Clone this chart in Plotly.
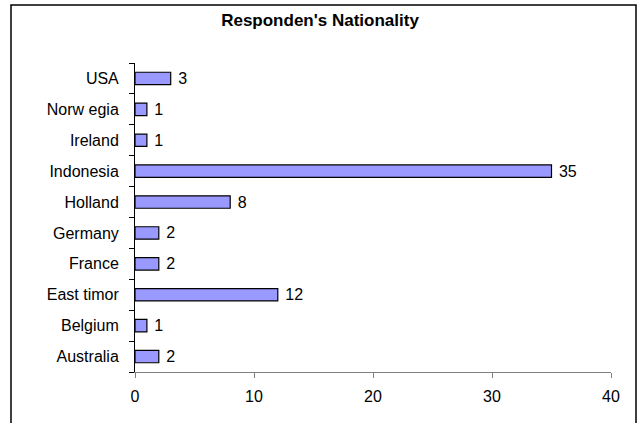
import plotly.graph_objects as go

categories = ["Australia", "Belgium", "East timor", "France", "Germany",
              "Holland", "Indonesia", "Ireland", "Norw egia", "USA"]
values = [2, 1, 12, 2, 2, 8, 35, 1, 1, 3]
title_text = "Responden's Nationality"

W, H = 639, 423
L, R, T, B = 135, 28, 63, 51
pw, ph = W - L - R, H - T - B
FONT = "Liberation Sans, Arial, sans-serif"

fig = go.Figure(go.Bar(
    y=categories, x=values, orientation="h",
    marker=dict(color="#9999FF", line=dict(color="#000000", width=1.2)),
    width=0.4,
    text=[" " + str(v) for v in values], textposition="outside",
    constraintext="none",
    textfont=dict(family=FONT, size=16, color="black"),
    cliponaxis=False,
))

fig.update_layout(
    width=W, height=H,
    margin=dict(l=L, r=R, t=T, b=B),
    paper_bgcolor="white", plot_bgcolor="white",
    showlegend=False,
    font=dict(family=FONT, size=16, color="black"),
    title=dict(text="<b>" + title_text + "</b>", x=320 / W, xanchor="center",
               y=1 - 20 / H, yanchor="middle",
               font=dict(family=FONT, size=17, color="black")),
    xaxis=dict(range=[0, 40], dtick=10, showgrid=False, zeroline=False,
               showline=True, linecolor="#808080", linewidth=1,
               ticks="outside", ticklen=5, tickcolor="#808080",
               ticklabelstandoff=5, fixedrange=True),
    yaxis=dict(showgrid=False, zeroline=False, showline=True,
               linecolor="black", linewidth=1,
               ticks="outside", ticklen=5, tickcolor="black",
               tickson="boundaries", ticklabelstandoff=12,
               categoryorder="array", categoryarray=categories),
    shapes=[dict(type="rect", xref="paper", yref="paper",
                 x0=(11 - L) / pw, x1=(636 - L) / pw,
                 y0=-0.3, y1=(H - B - 5) / ph,
                 line=dict(color="black", width=1.5), layer="below")],
)

fig.write_html("out.html")
